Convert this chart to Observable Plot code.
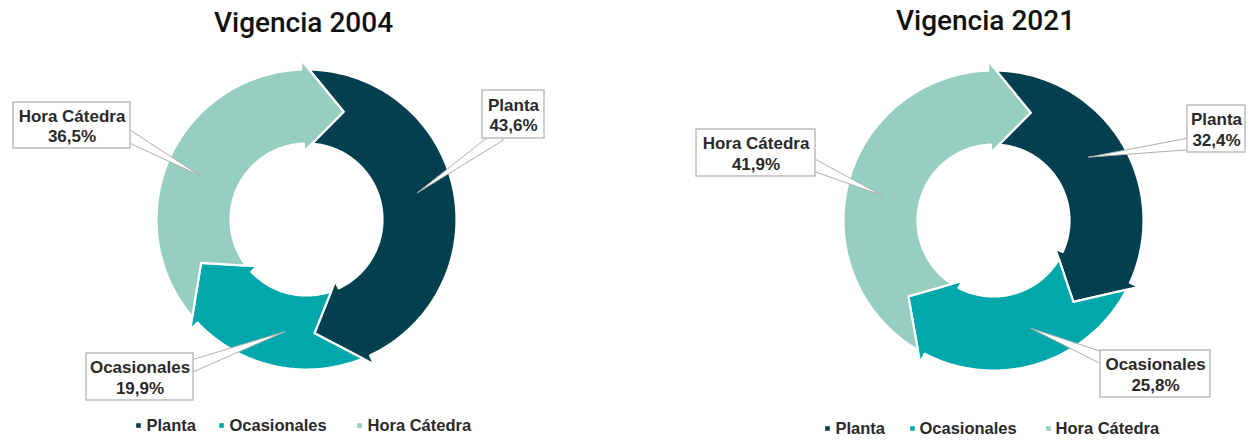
<!DOCTYPE html>
<html><head><meta charset="utf-8">
<script src="https://cdn.jsdelivr.net/npm/d3@7"></script>
<script src="https://cdn.jsdelivr.net/npm/@observablehq/plot@0.6"></script>
<style>body{margin:0;background:#fff;} #chart svg{display:block;}</style>
</head><body><div id="chart"></div>
<script>
// ---- data ----
const categories = ["Planta", "Ocasionales", "Hora Cátedra"];
const titles = ["Vigencia 2004", "Vigencia 2021"];
const values2004 = [43.6, 19.9, 36.5];
const values2021 = [32.4, 25.8, 41.9];
const colors = ["#023f4f", "#00a7ab", "#96cebf"];

// ---- layout (positions/sizes) ----
const W = 1254, H = 441;
const ring = {R: 150, Ri: 76, eo: 10, ei: 8, h: 21, start: -2, leaderR: 114};
const panels = [
  {values: values2004, cx: 306, cy: 219, titleX: 303, titleY: 23,
   legendY: 425, legendDot: [138, 221, 359], legendText: [146, 229, 367],
   boxes: [ {cx: 513, cy: 114, w: 62, h: 48, ax: 499, ay: 135},
            {cx: 139.5, cy: 376.5, w: 107, h: 47, ax: 190, ay: 366},
            {cx: 71.5, cy: 125, w: 117, h: 46, ax: 127, ay: 135} ]},
  {values: values2021, cx: 993, cy: 220, titleX: 985, titleY: 21,
   legendY: 428, legendDot: [827, 912, 1048], legendText: [835, 919, 1055],
   boxes: [ {cx: 1216, cy: 128.5, w: 58, h: 47, ax: 1191, ay: 143},
            {cx: 1155, cy: 373.5, w: 110, h: 47, ax: 1103, ay: 358},
            {cx: 755.5, cy: 152.5, w: 119, h: 47, ax: 812, ay: 164} ]}
];

const fmt = v => d3.format(".1f")(v).replace(".", ",") + "%";
function polar(th, r) { const t = th * Math.PI / 180; return [r * Math.sin(t), -r * Math.cos(t)]; }
function angOf(p) { return Math.atan2(p[0], -p[1]) * 180 / Math.PI; }
function near(a, ref) { while (a - ref > 180) a -= 360; while (a - ref < -180) a += 360; return a; }
function intersect(P, Q, r) {
  const dx = Q[0] - P[0], dy = Q[1] - P[1];
  const a = dx * dx + dy * dy, b = 2 * (P[0] * dx + P[1] * dy), c = P[0] * P[0] + P[1] * P[1] - r * r;
  const s = Math.sqrt(Math.max(0, b * b - 4 * a * c));
  let t = (-b + s) / (2 * a);
  if (t < 0 || t > 1) t = (-b - s) / (2 * a);
  return [P[0] + t * dx, P[1] + t * dy];
}
function segmentShape(a0, a1) {
  const {R, Ri, eo, ei, h} = ring;
  const rTip = (R + eo + Ri - ei) / 2;
  const notchTip = polar(a0 + h, rTip);
  const No = intersect(polar(a0, R + eo), notchTip, R);
  const Ni = intersect(polar(a0, Ri - ei), notchTip, Ri);
  const aNo = near(angOf(No), a0), aNi = near(angOf(Ni), a0);
  const step = 1.5, pts = [No];
  for (let a = aNo + step; a < a1; a += step) pts.push(polar(a, R));
  pts.push(polar(a1, R), polar(a1, R + eo), polar(a1 + h, rTip), polar(a1, Ri - ei), polar(a1, Ri));
  for (let a = a1 - step; a > aNi; a -= step) pts.push(polar(a, Ri));
  pts.push(Ni, notchTip);
  return pts;
}

const FONT = "Liberation Sans, Arial, sans-serif";
const segMarks = [], leaderMarks = [], boxMarks = [], textMarks = [];
panels.forEach((p, pi) => {
  const total = d3.sum(p.values);
  let acc = 0;
  p.values.forEach((v, i) => {
    const a0 = ring.start + 360 * acc / total;
    acc += v;
    const a1 = ring.start + 360 * acc / total;
    const pts = segmentShape(a0, a1).map(([x, y]) => ({x: p.cx + x, y: p.cy + y}));
    segMarks.push(Plot.line(pts, {x: "x", y: "y", curve: "linear-closed", fill: colors[i], stroke: "#ffffff", strokeWidth: 2.2}));
    // leader wedge
    const mid = (a0 + a1) / 2;
    const [tx, ty] = polar(mid, ring.leaderR);
    const tip = [p.cx + tx, p.cy + ty];
    const b = p.boxes[i];
    const dx = tip[0] - b.ax, dy = tip[1] - b.ay, L = Math.hypot(dx, dy);
    const nx = -dy / L * 6, ny = dx / L * 6;
    const wedge = [{x: b.ax + nx, y: b.ay + ny}, {x: tip[0], y: tip[1]}, {x: b.ax - nx, y: b.ay - ny}];
    leaderMarks.push(Plot.line(wedge, {x: "x", y: "y", curve: "linear-closed", fill: "#ffffff", stroke: "#b0b0b0", strokeWidth: 1}));
    boxMarks.push(Plot.rect([b], {x1: d => d.cx - d.w / 2, x2: d => d.cx + d.w / 2, y1: d => d.cy - d.h / 2, y2: d => d.cy + d.h / 2,
      fill: "#ffffff", stroke: "#bdbdbd", strokeWidth: 1.5}));
    textMarks.push(Plot.text([b], {x: "cx", y: "cy", text: () => categories[i] + "\n" + fmt(v),
      fontSize: 17, fontWeight: "bold", fontFamily: FONT, fill: "#2a2a2a", lineHeight: 1.2, lineAnchor: "middle"}));
    // legend
    textMarks.push(Plot.dot([0], {x: () => p.legendDot[i], y: () => p.legendY, symbol: "square", r: 2.6, fill: colors[i], stroke: null}));
    textMarks.push(Plot.text([0], {x: () => p.legendText[i], y: () => p.legendY, text: () => categories[i], textAnchor: "start",
      fontSize: 16.5, fontWeight: "bold", fontFamily: FONT, fill: "#2a2a2a", lineAnchor: "middle"}));
  });
  textMarks.push(Plot.text([0], {x: () => p.titleX, y: () => p.titleY, text: () => titles[pi], fontSize: 28, fontWeight: 500,
    fontFamily: "Roboto, sans-serif", fill: "#111111", lineAnchor: "middle"}));
});

const chart = Plot.plot({
  width: W, height: H,
  margin: 0,
  x: {type: "identity", axis: null},
  y: {type: "identity", axis: null},
  style: {background: "#ffffff", overflow: "visible"},
  marks: [...segMarks, ...leaderMarks, ...boxMarks, ...textMarks]
});
document.getElementById("chart").append(chart);
</script>
</body></html>
